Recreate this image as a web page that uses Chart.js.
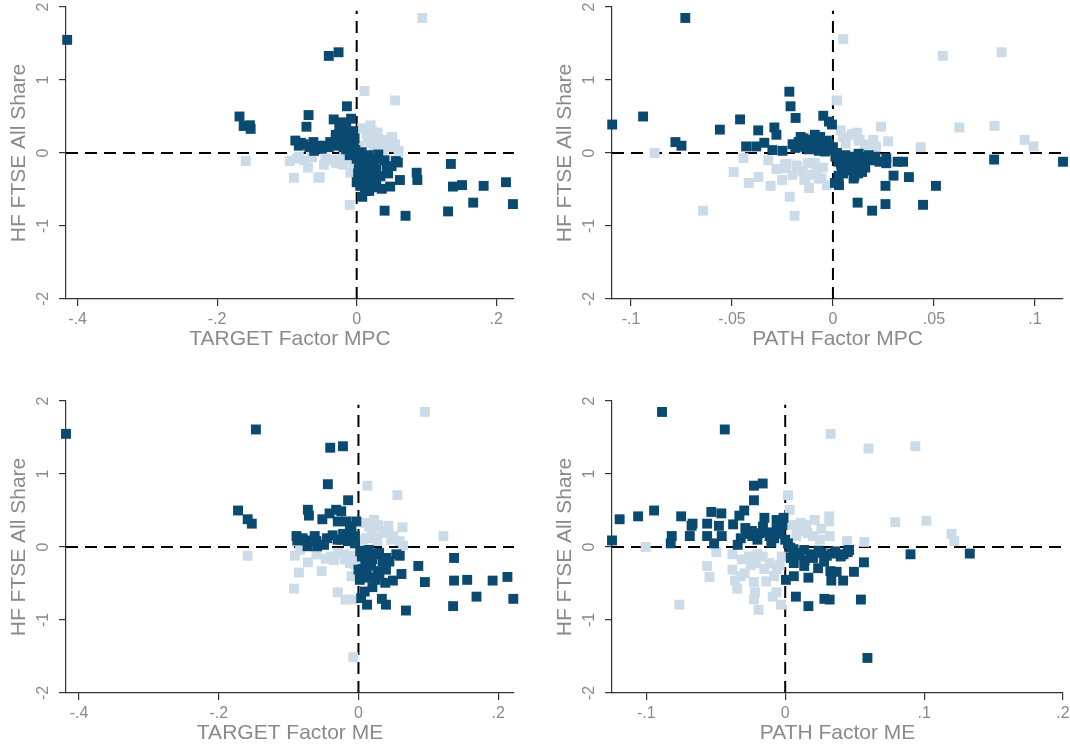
<!DOCTYPE html>
<html>
<head>
<meta charset="utf-8">
<script src="https://cdn.jsdelivr.net/npm/chart.js@4.4.1/dist/chart.umd.min.js"></script>
<style>
  body { margin: 0; background: #fff; width: 1070px; height: 749px; position: relative; overflow: hidden; }
  canvas { position: absolute; }
</style>
</head>
<body>
<canvas id="c1" width="535" height="374" style="left:0;top:0"></canvas>
<canvas id="c2" width="535" height="374" style="left:535px;top:0"></canvas>
<canvas id="c3" width="535" height="374" style="left:0;top:394px"></canvas>
<canvas id="c4" width="535" height="374" style="left:535px;top:394px"></canvas>
<script>
// shared y axis
const yTitle = "HF FTSE All Share";
const yRange = [-2, 2];
const yTicks = [-2, -1, 0, 1, 2];
const yTickLabels = ["-2", "-1", "0", "1", "2"];

// x axes
const xTitles = ["TARGET Factor MPC", "PATH Factor MPC", "TARGET Factor ME", "PATH Factor ME"];
const xRange1 = [-0.4167, 0.2255];
const xRange2 = [-0.1094, 0.1139];
const xRange3 = [-0.4187, 0.2227];
const xRange4 = [-0.1247, 0.2];
const xTicks1 = [-0.4, -0.2, 0, 0.2];
const xTickLabels1 = ["-.4", "-.2", "0", ".2"];
const xTicks2 = [-0.1, -0.05, 0, 0.05, 0.1];
const xTickLabels2 = ["-.1", "-.05", "0", ".05", ".1"];
const xTicks4 = [-0.1, 0, 0.1, 0.2];
const xTickLabels4 = ["-.1", "0", ".1", ".2"];

// panel 1: TARGET Factor MPC
const p1DarkX = [-0.415, -0.040, -0.026, -0.168, -0.162, -0.153, -0.152, -0.069, -0.072, -0.014, -0.033, -0.021, -0.008, -0.024,
  -0.088, -0.076, -0.062, -0.061, -0.050, -0.038, -0.024, -0.019, -0.012, -0.007, -0.002, -0.010, 0.000, 0.005, 0.010, 0.007,
  0.017, 0.024, 0.031, 0.040, 0.043, 0.056, 0.059, 0.002, 0.000, 0.013, 0.024, 0.036, 0.026, 0.034, 0.048, 0.062, 0.014, 0.019,
  0.008, 0.086, 0.087, 0.040, 0.070, 0.135, 0.138, 0.151, 0.182, 0.214, 0.167, 0.224, 0.131,
  -0.005, -0.015, -0.030, -0.003, 0.003, 0.012, 0.020, 0.028, 0.006, -0.045, -0.080, -0.028, 0.045, 0.018,
  0.004, 0.008, 0.015, 0.003, 0.010, 0.016, 0.022, 0.028, 0.005, -0.004, -0.012, -0.018, -0.025, -0.030, -0.040, -0.055,
  -0.068, -0.083, -0.015, 0.030, 0.050, 0.012];
const p1DarkY = [1.55, 1.33, 1.38, 0.50, 0.37, 0.38, 0.33, 0.52, 0.36, 0.64, 0.46, 0.42, 0.47, 0.33,
  0.17, 0.12, 0.15, 0.03, 0.06, 0.15, 0.20, 0.08, 0.26, 0.13, 0.04, -0.03, -0.08, -0.17, -0.10, 0.01,
  -0.03, -0.10, -0.02, -0.10, -0.20, -0.11, -0.13, -0.28, -0.40, -0.44, -0.47, -0.49, -0.37, -0.32, -0.46, -0.37, -0.33, -0.24,
  -0.60, -0.27, -0.37, -0.79, -0.86, -0.15, -0.46, -0.44, -0.45, -0.40, -0.68, -0.70, -0.80,
  0.30, 0.35, 0.25, 0.20, -0.02, -0.20, -0.15, -0.22, -0.35, 0.10, 0.14, 0.10, -0.28, -0.52,
  -0.05, -0.12, -0.08, -0.22, -0.30, -0.38, -0.30, -0.40, -0.45, 0.10, 0.18, 0.30, 0.38, 0.20, 0.08, 0.10,
  0.08, 0.10, 0.05, -0.08, -0.18, -0.52];
const p1LightX = [0.094, 0.011, 0.055, 0.020, 0.014, 0.026, 0.050, 0.048, 0.060, 0.033, 0.019, 0.038, 0.029, 0.051, 0.008,
  -0.159, -0.096, -0.090, -0.083, -0.070, -0.053, -0.047, -0.037, -0.025, -0.012, -0.009, -0.010, -0.086, -0.055, -0.038, -0.064,
  0.004, 0.040, -0.030, -0.018,
  0.022, 0.030, 0.016, 0.042, 0.055, 0.025, -0.020, -0.045, -0.075, -0.005];
const p1LightY = [1.85, 0.85, 0.72, 0.38, 0.26, 0.24, 0.21, 0.08, 0.03, 0.15, 0.13, 0.04, 0.18, 0.22, 0.34,
  -0.11, -0.11, -0.34, -0.05, -0.20, -0.33, -0.16, -0.09, -0.09, -0.08, -0.27, -0.71, -0.08, -0.34, -0.10, -0.06,
  0.10, 0.12, -0.14, -0.05,
  0.30, 0.28, 0.20, 0.18, 0.12, 0.05, -0.16, -0.07, -0.10, -0.15];

// panel 2: PATH Factor MPC
const p2DarkX = [-0.0731, -0.1093, -0.094, -0.078, -0.075, -0.056, -0.046, -0.043, -0.037, -0.038, -0.034, -0.029, -0.028, -0.030,
  -0.025, -0.0216, -0.021, -0.0185, -0.0048, -0.0005, -0.002, 0.0122, 0.0194, 0.026, 0.0446, 0.051, 0.026, 0.030, 0.0376, 0.032,
  0.0347, 0.0264, 0.0264, 0.0192, 0.0798, 0.1139, 0.003, 0.001, 0.0106, 0.0124, 0.005,
  -0.0186, -0.0145, -0.0137, -0.0112, -0.0087, -0.0063, -0.0046, -0.003, -0.017, -0.0013, 0.0012, 0.0028, 0.0061, 0.0094, 0.0127,
  0.0152, 0.0177, 0.0045, 0.0078, 0.0119, 0.0144, 0.0102, 0.0028, 0.019, -0.010, -0.007, 0.007,
  -0.015, -0.012, -0.008, -0.005, -0.002, 0.002, 0.005, 0.008, 0.011, 0.014, 0.017, 0.009, 0.004, -0.020, -0.016, -0.009,
  0.021, 0.023, 0.016, -0.004, 0.0];
const p2DarkY = [1.85, 0.39, 0.50, 0.15, 0.10, 0.32, 0.46, 0.09, 0.31, 0.09, 0.14, 0.35, 0.25, 0.04,
  0.03, 0.84, 0.64, 0.48, 0.51, 0.39, 0.43, -0.68, -0.79, -0.70, -0.71, -0.45, -0.45, -0.31, -0.33, -0.12,
  -0.12, -0.07, -0.14, -0.09, -0.09, -0.12, -0.44, -0.41, -0.32, -0.28, -0.28,
  0.07, 0.20, 0.08, 0.13, 0.06, 0.22, 0.11, 0.17, 0.15, 0.04, -0.05, -0.12, -0.03, -0.08, -0.01,
  -0.10, -0.03, -0.21, -0.24, -0.19, -0.26, -0.35, -0.31, -0.10, 0.18, 0.03, -0.15,
  0.10, 0.05, 0.15, 0.07, 0.12, 0.00, -0.08, -0.12, -0.05, -0.15, -0.07, -0.20, -0.16, 0.12, 0.22, 0.25,
  -0.05, -0.12, -0.20, 0.02, 0.08];
const p2LightX = [0.0051, 0.0544, 0.0835, 0.002, 0.0238, 0.0626, 0.080, 0.0949, 0.0993, 0.0434, 0.0273, 0.0213, -0.0883, -0.0643,
  -0.0492, -0.0443, -0.0417, -0.0369, -0.032, -0.0309, -0.0252, -0.0237, -0.0214, -0.019, -0.0177, -0.0142, -0.0118, -0.0125,
  -0.0082, -0.0057, -0.003, -0.009, 0.0038, 0.0098, 0.0132, 0.0063, 0.0158, -0.023, -0.018, -0.024, -0.011, -0.008, -0.0137,
  -0.007, 0.0094, 0.0127,
  0.005, 0.012, 0.017, 0.020, -0.015, -0.020, -0.005, -0.028, -0.012];
const p2LightY = [1.56, 1.33, 1.38, 0.72, 0.36, 0.35, 0.37, 0.18, 0.09, 0.08, 0.16, 0.09, 0.00, -0.79,
  -0.26, -0.07, -0.41, -0.33, -0.10, -0.45, -0.37, -0.16, -0.60, -0.86, -0.19, -0.37, -0.48, -0.14,
  -0.28, -0.35, -0.44, -0.14, 0.31, 0.25, 0.18, 0.13, 0.09, -0.15, -0.17, -0.21, -0.14, -0.24, -0.37,
  -0.35, 0.26, 0.17,
  0.22, 0.28, 0.12, 0.18, -0.25, -0.30, -0.20, -0.22, -0.30];

// panel 3: TARGET Factor ME
const p3DarkX = [-0.4187, -0.1468, -0.0404, -0.0222, -0.0438, -0.0148, -0.1724, -0.1586, -0.1527, -0.0724, -0.0709, -0.0517,
  -0.0414, -0.0320, -0.0246, -0.0887, -0.0877, -0.0749, -0.0729, -0.0626, -0.0591, -0.0493, -0.0369, -0.0296, -0.0172, -0.0123,
  -0.0246, -0.0099, -0.0049, 0.1369, 0.0857, 0.0951, 0.1369, 0.1557, 0.1921, 0.2133, 0.169, 0.2217, 0.1355, 0.068, 0.0394,
  0.0335, 0.0089, 0.0039, 0.0123, 0.0616, 0.0493, 0.0384, 0.0443, 0.0591, 0.0542, 0.0271, 0.0394, 0.0148, 0.0246, 0.0025,
  0.0099, 0.0197, 0.0296, 0.0049, 0.0025, 0.0148, 0.0345, 0.0,
  0.005, 0.010, 0.018, 0.022, 0.006, 0.012, 0.030, 0.002, -0.005, -0.010, -0.015, -0.022, -0.030, -0.045, -0.060, -0.080,
  -0.003, 0.040, 0.020];
const p3DarkY = [1.55, 1.61, 1.36, 1.38, 0.86, 0.64, 0.50, 0.38, 0.32, 0.51, 0.43, 0.38,
  0.46, 0.51, 0.49, 0.15, 0.09, 0.09, 0.01, 0.15, 0.01, 0.03, 0.16, 0.35, 0.35, 0.24,
  0.10, 0.15, 0.05, -0.15, -0.26, -0.48, -0.46, -0.45, -0.46, -0.41, -0.68, -0.71, -0.81, -0.87, -0.79,
  -0.71, -0.61, -0.70, -0.79, -0.37, -0.46, -0.49, -0.20, -0.12, -0.10, -0.33, -0.31, -0.42, -0.45, -0.38,
  -0.26, -0.17, -0.08, -0.13, -0.06, -0.04, -0.20, -0.31,
  -0.05, -0.15, -0.25, -0.10, -0.30, -0.38, -0.38, -0.45, 0.15, 0.28, 0.08, 0.18, 0.10, 0.12, 0.08, 0.12,
  0.35, -0.15, -0.55];
const p3LightX = [0.0951, 0.0128, 0.0557, 0.1217, 0.0429, 0.0631, 0.0591, 0.064, 0.0222, 0.0099, 0.0345, 0.0197, 0.0074,
  0.0271, 0.0468, -0.1586, -0.0911, -0.0852, -0.0921, -0.0724, -0.0527, -0.0468, -0.0394, -0.0296, -0.0182, -0.0074, -0.0074,
  -0.0099, -0.0197, -0.0123, -0.0837, -0.0296, -0.0049,
  0.015, 0.028, 0.040, 0.050, 0.012, 0.025, -0.020, -0.035, -0.060, -0.008];
const p3LightY = [1.85, 0.84, 0.71, 0.15, 0.29, 0.27, 0.08, 0.02, 0.37, 0.33, 0.19, 0.19, 0.10,
  0.08, 0.10, -0.12, -0.12, -0.35, -0.57, -0.21, -0.33, -0.16, -0.13, -0.62, -0.72, -0.72, -1.51,
  -0.40, -0.17, -0.22, -0.04, -0.08, -0.24,
  0.28, 0.30, 0.22, 0.15, 0.12, 0.12, -0.10, -0.18, -0.10, -0.12];

// panel 4: PATH Factor ME
const p4DarkX = [-0.0887, -0.0435, -0.1247, -0.1192, -0.1059, -0.0944, -0.0749, -0.0817, -0.0824, -0.0687, -0.0674, -0.0667,
  -0.0562, -0.0562, -0.0532, -0.0512, -0.0477, -0.046, -0.0457, -0.0375, -0.0342, -0.033, -0.0295, -0.0225, -0.0162, -0.0225,
  -0.015, -0.0062, -0.0012, -0.0287, -0.0237, -0.0187, -0.0112, -0.0062, 0.0, 0.0037, 0.0087, 0.0137, 0.0187, 0.0262, 0.0337,
  0.04, 0.045, 0.0062, 0.0137, 0.0237, 0.0325, 0.037, 0.0332, 0.0417, 0.0495, 0.0567, 0.0005, 0.0062, 0.0167, 0.0077, 0.0167,
  0.0282, 0.032, 0.0545, 0.0592, 0.0902, 0.1329,
  -0.028, -0.024, -0.020, -0.016, -0.012, -0.008, -0.004, -0.010, 0.002, 0.006, 0.010, 0.014, 0.020, 0.024, 0.030, 0.036,
  0.042, 0.028, 0.004, -0.002, -0.032, 0.046];
const p4DarkY = [1.85, 1.61, 0.09, 0.38, 0.42, 0.50, 0.42, 0.15, 0.05, 0.15, 0.29, 0.32,
  0.32, 0.15, 0.48, 0.05, 0.29, 0.46, 0.15, 0.31, 0.03, 0.43, 0.50, 0.84, 0.87, 0.64,
  0.40, 0.37, 0.40, 0.26, 0.15, 0.19, 0.15, 0.24, 0.10, -0.01, -0.08, -0.04, -0.10, -0.08, -0.09,
  -0.13, -0.07, -0.22, -0.26, -0.29, -0.33, -0.34, -0.46, -0.46, -0.34, -0.21, -0.45, -0.40, -0.42, -0.68, -0.81,
  -0.71, -0.72, -0.72, -1.52, -0.10, -0.09,
  0.18, 0.22, 0.10, 0.28, 0.20, 0.12, 0.18, 0.06, 0.05, -0.03, -0.12, -0.18, -0.15, -0.05, -0.12, -0.06,
  -0.10, -0.20, -0.15, 0.30, 0.12, -0.04];
const p4LightX = [0.0327, 0.060, 0.0937, 0.002, 0.0032, 0.0212, 0.0317, 0.0317, 0.0792, 0.1017, 0.1197, 0.1217, 0.0445,
  0.0570, 0.032, 0.0112, 0.0162, 0.025, 0.0087, -0.1004, -0.0762, -0.0562, -0.0545, -0.0495, -0.038, -0.038, -0.0362,
  -0.0345, -0.0292, -0.0262, -0.0225, -0.0217, -0.0225, -0.0192, -0.0137, -0.009, -0.0062, -0.003, -0.0112, -0.0062, -0.0162,
  -0.0212, -0.0312, -0.0025,
  0.005, 0.010, 0.015, 0.020, 0.026, 0.008, -0.015, -0.020, -0.008, -0.025, -0.032, -0.004];
const p4LightY = [1.55, 1.35, 1.38, 0.71, 0.51, 0.37, 0.42, 0.35, 0.34, 0.36, 0.18, 0.08, 0.08,
  0.07, 0.15, 0.33, 0.19, 0.10, 0.24, 0.00, -0.79, -0.26, -0.41, -0.07, -0.10, -0.31, -0.46,
  -0.57, -0.36, -0.13, -0.48, -0.62, -0.72, -0.86, -0.47, -0.68, -0.62, -0.79, -0.22, -0.31, -0.13,
  -0.22, -0.17, -0.13,
  0.30, 0.22, 0.30, 0.15, 0.25, 0.15, -0.30, -0.10, -0.40, -0.25, -0.40, -0.25];

const DARK = "#0b4a70";
const LIGHT = "#cbdbe8";
const GREY = "#8a8a8a";
const AXIS = "#333333";

Chart.defaults.font.family = "'Liberation Sans', Arial, sans-serif";

function pts(xs, ys) {
  return xs.map((x, i) => ({ x: x, y: ys[i] }));
}

function panel(id, title, xRange, xTicks, xLabels, darkX, darkY, lightX, lightY, padLeft, padRight) {
  const marker = { pointStyle: "rect", pointRadius: 7, pointHoverRadius: 7, borderWidth: 0, clip: 12 };
  const refLine = { showLine: true, borderColor: "#000", borderWidth: 2, borderDash: [12, 7], pointRadius: 0, fill: false };
  new Chart(id, {
    type: "scatter",
    data: {
      datasets: [
        Object.assign({ data: pts(darkX, darkY), backgroundColor: DARK }, marker),
        Object.assign({ data: pts(lightX, lightY), backgroundColor: LIGHT }, marker),
        Object.assign({ data: pts([0, 0], [yRange[0], 1.95]) }, refLine),
        Object.assign({ data: pts(xRange, [0, 0]) }, refLine)
      ]
    },
    options: {
      responsive: false,
      animation: false,
      devicePixelRatio: 1,
      layout: { padding: { left: padLeft, right: padRight, top: 7, bottom: 15 } },
      plugins: { legend: { display: false }, tooltip: { enabled: false } },
      scales: {
        x: {
          type: "linear",
          min: xRange[0],
          max: xRange[1],
          afterBuildTicks: s => { s.ticks = xTicks.map(v => ({ value: v })); },
          afterFit: s => { s.height = 60; s.paddingLeft = 0; s.paddingRight = 0; },
          grid: { drawOnChartArea: false, tickLength: 7, color: AXIS, lineWidth: 1.2 },
          border: { color: AXIS, width: 1.2 },
          ticks: { color: GREY, font: { size: 16 }, padding: 4, maxRotation: 0, callback: (v, i) => xLabels[i] },
          title: { display: true, text: title, color: GREY, font: { size: 21 }, padding: { top: 0, bottom: 7 } }
        },
        y: {
          type: "linear",
          min: yRange[0],
          max: yRange[1],
          afterBuildTicks: s => { s.ticks = yTicks.map(v => ({ value: v })); },
          afterFit: s => { s.width = 66; s.paddingTop = 0; s.paddingBottom = 0; },
          grid: { drawOnChartArea: false, tickLength: 7, color: AXIS, lineWidth: 1.2 },
          border: { color: AXIS, width: 1.2 },
          ticks: { color: GREY, font: { size: 16 }, padding: 8, minRotation: 90, maxRotation: 90, crossAlign: "center",
            callback: (v, i) => yTickLabels[i] },
          title: { display: true, text: yTitle, color: GREY, font: { size: 21 }, padding: { top: 7, bottom: 0 } }
        }
      }
    }
  });
}

panel("c1", xTitles[0], xRange1, xTicks1, xTickLabels1, p1DarkX, p1DarkY, p1LightX, p1LightY, 0, 21);
panel("c2", xTitles[1], xRange2, xTicks2, xTickLabels2, p2DarkX, p2DarkY, p2LightX, p2LightY, 11, 6);
panel("c3", xTitles[2], xRange3, xTicks1, xTickLabels1, p3DarkX, p3DarkY, p3LightX, p3LightY, 0, 21);
panel("c4", xTitles[3], xRange4, xTicks4, xTickLabels4, p4DarkX, p4DarkY, p4LightX, p4LightY, 11, 6);
</script>
</body>
</html>
